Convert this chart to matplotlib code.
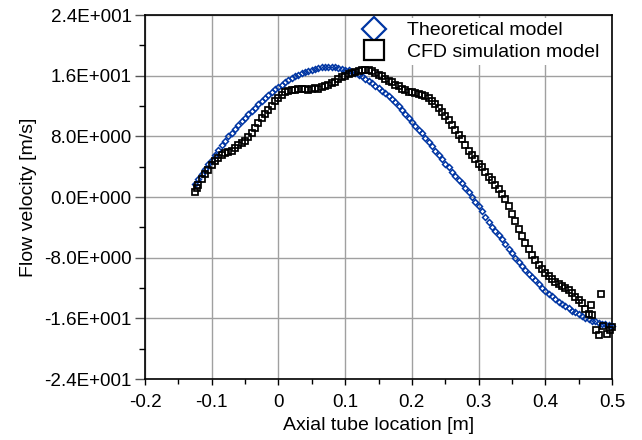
import math
import matplotlib
matplotlib.use("Agg")
import matplotlib.pyplot as plt
from matplotlib.lines import Line2D
from matplotlib.ticker import FuncFormatter, MultipleLocator

plt.rcParams['font.family'] = ['Liberation Sans', 'DejaVu Sans']

# Theoretical model (blue)
theo_x = [-0.125, -0.12, -0.115, -0.11, -0.105, -0.1, -0.095, -0.09, -0.085, -0.08,
          -0.075, -0.07, -0.065, -0.06, -0.055, -0.05, -0.045, -0.04, -0.035, -0.03,
          -0.025, -0.02, -0.015, -0.01, -0.005, 0.0, 0.005, 0.01, 0.015, 0.02,
          0.025, 0.03, 0.035, 0.04, 0.045, 0.05, 0.055, 0.06, 0.065, 0.07,
          0.075, 0.08, 0.085, 0.09, 0.095, 0.1, 0.105, 0.11, 0.115, 0.12,
          0.125, 0.13, 0.135, 0.14, 0.145, 0.15, 0.155, 0.16, 0.165, 0.17,
          0.175, 0.18, 0.185, 0.19, 0.195, 0.2, 0.205, 0.21, 0.215, 0.22,
          0.225, 0.23, 0.235, 0.24, 0.245, 0.25, 0.255, 0.26, 0.265, 0.27,
          0.275, 0.28, 0.285, 0.29, 0.295, 0.3, 0.305, 0.31, 0.315, 0.32,
          0.325, 0.33, 0.335, 0.34, 0.345, 0.35, 0.355, 0.36, 0.365, 0.37,
          0.375, 0.38, 0.385, 0.39, 0.395, 0.4, 0.405, 0.41, 0.415, 0.42,
          0.425, 0.43, 0.435, 0.44, 0.445, 0.45, 0.455, 0.46, 0.465, 0.47,
          0.475, 0.48, 0.485, 0.49, 0.495, 0.5]
theo_y = [1.7, 2.4, 3.0, 3.7, 4.3, 4.9, 5.5, 6.2, 6.8, 7.4,
          8.0, 8.5, 9.0, 9.5, 10.0, 10.4, 10.9, 11.3, 11.8, 12.2,
          12.6, 13.0, 13.4, 13.8, 14.2, 14.5, 14.8, 15.1, 15.4, 15.7,
          15.9, 16.1, 16.3, 16.5, 16.6, 16.7, 16.9, 17.0, 17.1, 17.2,
          17.2, 17.2, 17.1, 17.0, 16.9, 16.8, 16.7, 16.5, 16.3, 16.1,
          15.9, 15.6, 15.3, 15.0, 14.7, 14.4, 14.0, 13.7, 13.3, 12.9,
          12.5, 12.0, 11.5, 11.0, 10.4, 9.9, 9.4, 8.9, 8.4, 7.8,
          7.3, 6.7, 6.1, 5.6, 5.0, 4.4, 3.9, 3.3, 2.8, 2.3,
          1.8, 1.2, 0.6, 0.0, -0.6, -1.2, -1.9, -2.6, -3.3, -3.9,
          -4.5, -5.0, -5.6, -6.2, -6.9, -7.4, -8.0, -8.6, -9.1, -9.6,
          -10.1, -10.5, -11.0, -11.5, -12.0, -12.4, -12.8, -13.1, -13.5, -13.8,
          -14.1, -14.4, -14.7, -15.0, -15.2, -15.4, -15.7, -15.9, -16.1, -16.3,
          -16.4, -16.6, -16.7, -16.8, -16.9, -17.0]

# CFD simulation model (black)
cfd_x = [-0.125, -0.122, -0.12, -0.115, -0.11, -0.105, -0.1, -0.095, -0.09, -0.085,
         -0.08, -0.075, -0.07, -0.065, -0.06, -0.055, -0.05, -0.045, -0.04, -0.035,
         -0.03, -0.025, -0.02, -0.015, -0.01, -0.005, 0.0, 0.005, 0.01, 0.015,
         0.02, 0.025, 0.03, 0.035, 0.04, 0.045, 0.05, 0.055, 0.06, 0.065,
         0.07, 0.075, 0.08, 0.085, 0.09, 0.095, 0.1, 0.105, 0.11, 0.115,
         0.12, 0.125, 0.13, 0.135, 0.14, 0.145, 0.15, 0.155, 0.16, 0.165,
         0.17, 0.175, 0.18, 0.185, 0.19, 0.195, 0.2, 0.205, 0.21, 0.215,
         0.22, 0.225, 0.23, 0.235, 0.24, 0.245, 0.25, 0.255, 0.26, 0.265,
         0.27, 0.275, 0.28, 0.285, 0.29, 0.295, 0.3, 0.305, 0.31, 0.315,
         0.32, 0.325, 0.33, 0.335, 0.34, 0.345, 0.35, 0.355, 0.36, 0.365,
         0.37, 0.375, 0.38, 0.385, 0.39, 0.395, 0.4, 0.405, 0.41, 0.415,
         0.42, 0.425, 0.43, 0.435, 0.44, 0.445, 0.45, 0.455, 0.46, 0.465,
         0.47, 0.468, 0.484, 0.476, 0.48, 0.487, 0.492, 0.497, 0.5]
cfd_y = [0.6, 1.2, 1.6, 2.4, 3.1, 3.6, 4.2, 4.7, 5.2, 5.5,
         5.8, 6.0, 6.1, 6.5, 6.8, 7.1, 7.4, 7.9, 8.5, 9.1,
         9.7, 10.4, 11.0, 11.5, 12.0, 12.6, 13.1, 13.5, 13.8, 14.0,
         14.1, 14.1, 14.2, 14.3, 14.2, 14.1, 14.3, 14.4, 14.3, 14.5,
         14.6, 14.8, 15.0, 15.2, 15.5, 15.8, 16.0, 16.2, 16.4, 16.5,
         16.6, 16.8, 16.8, 16.7, 16.6, 16.3, 16.1, 15.9, 15.6, 15.3,
         15.1, 14.8, 14.6, 14.3, 14.1, 13.9, 13.8, 13.7, 13.6, 13.5,
         13.3, 13.0, 12.6, 12.2, 11.7, 11.2, 10.7, 10.1, 9.5, 8.9,
         8.2, 7.6, 6.8, 6.1, 5.5, 5.0, 4.4, 3.9, 3.3, 2.7,
         2.2, 1.6, 1.1, 0.4, -0.3, -1.2, -2.2, -3.2, -4.2, -5.1,
         -6.0, -6.8, -7.6, -8.3, -9.0, -9.5, -10.0, -10.4, -10.8, -11.2,
         -11.5, -11.7, -12.0, -12.3, -12.7, -13.2, -13.6, -14.0, -14.8, -15.4,
         -15.6, -14.2, -12.8, -17.5, -18.2, -17.0, -18.0, -17.6, -17.1]

x_ticks = [-0.2, -0.1, 0.0, 0.1, 0.2, 0.3, 0.4, 0.5]
y_ticks = [-24, -16, -8, 0, 8, 16, 24]

BLUE = '#0035a3'

fig = plt.figure(figsize=(6.42, 4.40), dpi=100)
ax = fig.add_axes([0.2259, 0.1386, 0.7274, 0.8273])

ax.plot(theo_x, theo_y, linestyle='none', marker='D', markersize=3.0,
        markerfacecolor='none', markeredgecolor=BLUE, markeredgewidth=1.1,
        clip_on=False, zorder=3)
ax.plot(cfd_x, cfd_y, linestyle='none', marker='s', markersize=4.0,
        markerfacecolor='none', markeredgecolor='black', markeredgewidth=1.25,
        clip_on=False, zorder=4)

ax.set_xlim(-0.2, 0.5)
ax.set_ylim(-24, 24)
ax.set_xticks(x_ticks)
ax.set_yticks(y_ticks)
ax.xaxis.set_minor_locator(MultipleLocator(0.05))
ax.yaxis.set_minor_locator(MultipleLocator(4))


def yfmt(v, pos):
    if abs(v) < 1e-12:
        return '0.0E+000'
    e = int(math.floor(math.log10(abs(v))))
    m = v / 10 ** e
    return '{:.1f}E{:+04d}'.format(m, e)


def xfmt(v, pos):
    if abs(v) < 1e-12:
        return '0'
    return '{:.1f}'.format(v)


ax.yaxis.set_major_formatter(FuncFormatter(yfmt))
ax.xaxis.set_major_formatter(FuncFormatter(xfmt))

ax.grid(True, which='major', color='#a0a0a0', linewidth=1.0, zorder=0)
ax.set_axisbelow(True)
for s in ax.spines.values():
    s.set_linewidth(1.2)
    s.set_color('black')

ax.tick_params(axis='y', which='major', direction='out', length=7, width=1.0,
               pad=2.5, labelsize=13.6, color='#555555')
ax.tick_params(axis='y', which='minor', direction='out', length=4, width=1.0)
ax.tick_params(axis='x', which='major', direction='out', length=4.5, width=1.0,
               pad=6.5, labelsize=13.6)
ax.tick_params(axis='x', which='minor', direction='out', length=3.5, width=1.0)

ax.set_xlabel('Axial tube location [m]', fontsize=14, labelpad=4)
ax.set_ylabel('Flow velocity [m/s]', fontsize=14, labelpad=5)

handles = [
    Line2D([], [], linestyle='none', marker='D', markersize=12.5,
           markerfacecolor='white', markeredgecolor=BLUE, markeredgewidth=1.6),
    Line2D([], [], linestyle='none', marker='s', markersize=14.5,
           markerfacecolor='white', markeredgecolor='black', markeredgewidth=1.6),
]
leg = ax.legend(handles, ['Theoretical model', 'CFD simulation model'],
                loc='upper left', bbox_to_anchor=(0.4604, 0.9918),
                fontsize=14, frameon=True, fancybox=False,
                facecolor='white', edgecolor='none', framealpha=1.0,
                borderpad=0.2, borderaxespad=0.0, labelspacing=0.2,
                handletextpad=1.23, handlelength=1.0)
leg.set_zorder(5)

fig.savefig('out.png', dpi=100)
